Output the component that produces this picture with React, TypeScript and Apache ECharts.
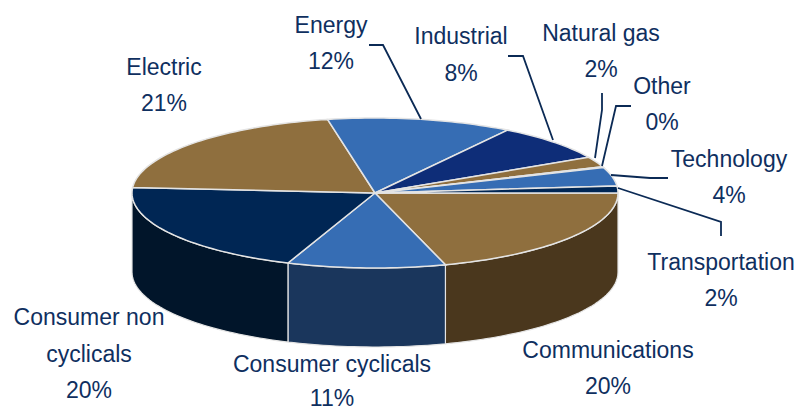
import React, { useEffect, useRef } from "react";
import * as echarts from "echarts";

const categories = ["Communications", "Consumer cyclicals", "Consumer non\ncyclicals", "Electric", "Energy", "Industrial", "Natural gas", "Other", "Technology", "Transportation"];
const shares = [20.3, 10.5, 20.3, 20.7, 12.3, 7.9, 2.2, 0.2, 4.0, 1.5];
const topColors = ["#8F6F3E", "#366DB4", "#002654", "#8F6F3E", "#366DB4", "#0E2D78", "#8F6F3E", "#C9C9C9", "#366DB4", "#002654"];
const sideColors = ["#4A371D", "#1A365C", "#01152A", "#4A371D", "#1A365C", "#07173C", "#4A371D", "#666666", "#1A365C", "#01152A"];
const labelCenters = [[608, 350], [332, 364], [89, 317], [164, 67], [331, 25], [461, 36], [601, 33], [662, 86], [729, 159], [721, 262]];
const labelSteps = [35.5, 33.5, 36.5, 36, 36, 36.5, 36, 36, 35.5, 35.5];
const leaderLines: (number[][] | null)[] = [
  null, null, null, null,
  [[369, 45], [383, 45], [421, 119]],
  [[508, 56], [523, 56], [553, 140]],
  [[602, 93], [602, 110], [595, 158]],
  [[631, 106], [616, 106], [602, 166]],
  [[668, 178], [650, 178], [611, 175]],
  [[721, 236], [721, 222], [618, 188]],
];

const CX = 375, CY = 193, RX = 243, RY = 75, DEPTH = 79;
const TEXT = "#0F2F5F", EDGE = "#E4E4E4", LINE = "#0B2A55";
const FONT = "Liberation Sans";
const FONT_SIZE = 23;
const total = shares.reduce((a, b) => a + b, 0);
const pt = (deg: number, dy = 0) => [
  CX + RX * Math.cos((deg * Math.PI) / 180),
  CY - RY * Math.sin((deg * Math.PI) / 180) + dy,
];
const arc = (from: number, to: number, dy = 0) => {
  const n = Math.max(2, Math.ceil(Math.abs(to - from) / 1.5));
  return Array.from({ length: n + 1 }, (_, i) => pt(from + ((to - from) * i) / n, dy));
};

function renderSlice(params: any, api: any) {
  const i = params.dataIndex;
  const before = shares.slice(0, i).reduce((a, b) => a + b, 0);
  const start = -(before / total) * 360;
  const end = start - (api.value(0) / total) * 360;
  const children: any[] = [];
  const sideFrom = Math.min(start, 0);
  const sideTo = Math.max(end, -180);
  if (sideFrom > sideTo) {
    children.push({
      type: "polygon",
      shape: { points: [...arc(sideFrom, sideTo), ...arc(sideTo, sideFrom, DEPTH)] },
      style: { fill: sideColors[i], stroke: EDGE, lineWidth: 1.2 },
    });
  }
  children.push({
    type: "polygon",
    shape: { points: [[CX, CY], ...arc(start, end)] },
    style: { fill: topColors[i], stroke: EDGE, lineWidth: 1.5 },
  });
  const pts = leaderLines[i];
  if (pts) {
    children.push({
      type: "polyline",
      shape: { points: pts },
      style: { stroke: LINE, lineWidth: 1.8, fill: "none" },
      z2: 5,
    });
  }
  const lines = [...categories[i].split("\n"), `${Math.round(api.value(0))}%`];
  lines.forEach((t, k) => {
    children.push({
      type: "text",
      x: labelCenters[i][0],
      y: labelCenters[i][1] + k * labelSteps[i],
      z2: 6,
      style: { text: t, fill: TEXT, font: `${FONT_SIZE}px "${FONT}"`, align: "center", verticalAlign: "middle" },
    });
  });
  return { type: "group", children };
}

export default function App() {
  const ref = useRef<HTMLDivElement>(null);
  useEffect(() => {
    document.body.style.margin = "0";
    const chart = echarts.init(ref.current!, undefined, { renderer: "svg" });
    chart.setOption({
      animation: false,
      backgroundColor: "#FFFFFF",
      series: [{
        type: "custom",
        coordinateSystem: "none",
        renderItem: renderSlice,
        data: shares.map((v) => [v]),
      }],
    });
    return () => chart.dispose();
  }, []);
  return <div ref={ref} style={{ width: 797, height: 409 }} />;
}
